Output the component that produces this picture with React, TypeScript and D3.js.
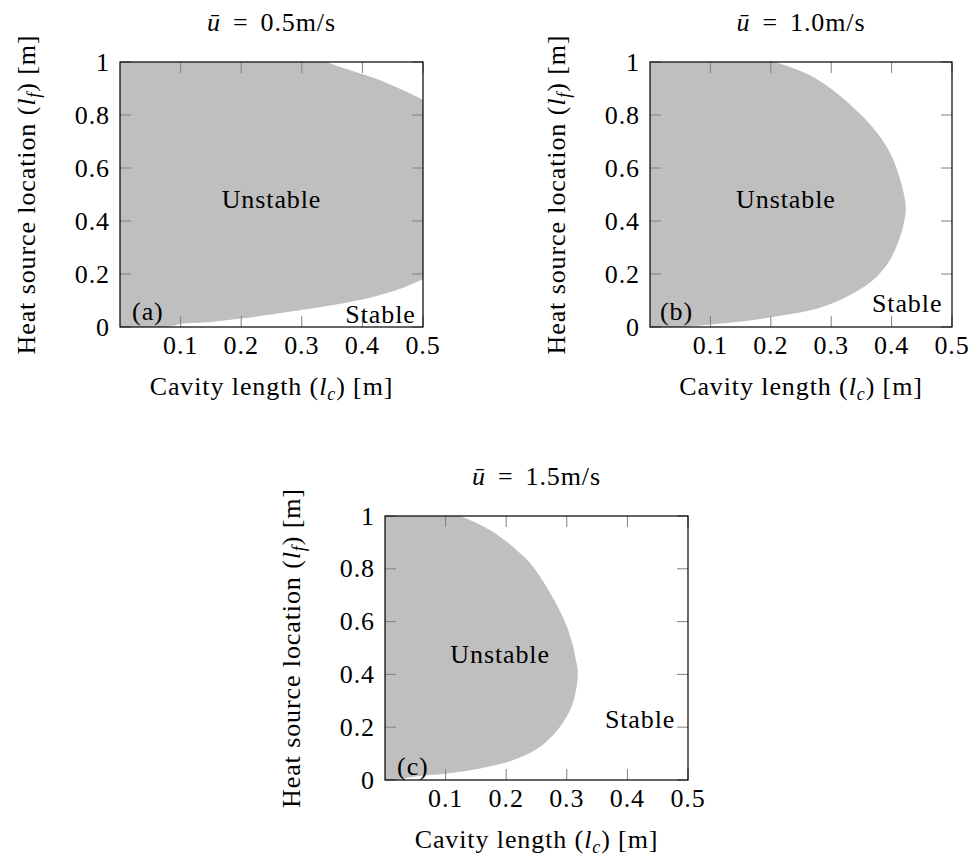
import React from "react";
import * as d3 from "d3";

// Mean flow velocities of the three stability maps
const velocities = ["0.5", "1.0", "1.5"];
const panelTags = ["(a)", "(b)", "(c)"];

const xTicks = [0.1, 0.2, 0.3, 0.4, 0.5];
const yTicks = [0, 0.2, 0.4, 0.6, 0.8, 1];
const yTickLabels = ["0", "0.2", "0.4", "0.6", "0.8", "1"];

// Boundary of the unstable region, traced from the bottom edge round to the top edge.
// Panel (a) runs out of the window at lc = 0.5, so its boundary is a lower and an upper branch.
const lowerLcA = [0.07, 0.09, 0.101, 0.15, 0.2, 0.247, 0.302, 0.357, 0.412, 0.467, 0.5];
const lowerLfA = [0, 0.006, 0.012, 0.019, 0.032, 0.046, 0.065, 0.085, 0.11, 0.148, 0.18];
const upperLcA = [0.5, 0.461, 0.423, 0.384, 0.34];
const upperLfA = [0.858, 0.9, 0.937, 0.966, 1.0];

const boundaryLcB = [0.05, 0.083, 0.116, 0.165, 0.22, 0.276, 0.325, 0.369, 0.397, 0.414, 0.421, 0.4235, 0.4205, 0.413, 0.402, 0.383, 0.353, 0.314, 0.265, 0.207];
const boundaryLfB = [0, 0.006, 0.013, 0.025, 0.044, 0.069, 0.113, 0.176, 0.252, 0.34, 0.4, 0.45, 0.5, 0.565, 0.635, 0.711, 0.792, 0.874, 0.95, 1.0];

const boundaryLcC = [0.02, 0.047, 0.074, 0.102, 0.157, 0.212, 0.256, 0.289, 0.308, 0.317, 0.318, 0.315, 0.309, 0.298, 0.279, 0.256, 0.2395, 0.223, 0.204, 0.173, 0.14, 0.124];
const boundaryLfC = [0, 0.0125, 0.019, 0.025, 0.044, 0.076, 0.126, 0.202, 0.278, 0.366, 0.417, 0.455, 0.518, 0.594, 0.682, 0.77, 0.821, 0.859, 0.897, 0.947, 0.985, 1.0];

type Pt = [number, number];
const zip = (lc: number[], lf: number[]): Pt[] => lc.map((v, i) => [v, lf[i]]);

// Each panel: list of boundary branches joined by straight runs
const branches: Pt[][][] = [
  [zip(lowerLcA, lowerLfA), zip(upperLcA, upperLfA)],
  [zip(boundaryLcB, boundaryLfB)],
  [zip(boundaryLcC, boundaryLfC)],
];

// Frame of each panel on the page
const frames = [
  { left: 120, top: 62, width: 303, height: 265 },
  { left: 650, top: 62, width: 302, height: 265 },
  { left: 385, top: 516, width: 303, height: 264 },
];

// Annotation anchors in data coordinates
const unstableAt = [
  [0.25, 0.448],
  [0.225, 0.448],
  [0.19, 0.444],
];
const stableAt = [
  [0.488, 0.014],
  [0.484, 0.057],
  [0.479, 0.196],
];
const tagAt = [
  [0.02, 0.025],
  [0.0165, 0.025],
  [0.02, 0.019],
];

const FONT = "'Liberation Serif', 'Times New Roman', serif";
const FS = 26;
const LS = 0.9;

function Panel({ idx }: { idx: number }) {
  const f = frames[idx];
  const x = d3.scaleLinear().domain([0, 0.5]).range([f.left, f.left + f.width]);
  const y = d3.scaleLinear().domain([0, 1]).range([f.top + f.height, f.top]);

  const line = d3
    .line<Pt>()
    .x((d) => x(d[0]))
    .y((d) => y(d[1]))
    .curve(d3.curveCatmullRom.alpha(0.5));
  const parts = branches[idx].map((b, i) => {
    const s = line(b) || "";
    return i === 0 ? s : "L" + s.slice(1);
  });
  const regionPath = `${parts.join("")}L${x(0)},${y(1)}L${x(0)},${y(0)}Z`;

  const clipId = `plot-clip-${idx}`;
  const tickLen = 11;
  const cx = f.left + f.width / 2;
  const cy = f.top + f.height / 2;
  const bottom = f.top + f.height;
  const right = f.left + f.width;

  return (
    <g fontFamily={FONT} fontSize={FS} fill="#000" letterSpacing={LS}>
      <defs>
        <clipPath id={clipId}>
          <rect x={f.left} y={f.top} width={f.width} height={f.height} />
        </clipPath>
      </defs>
      <path d={regionPath} fill="#bfbfbf" clipPath={`url(#${clipId})`} />

      {/* ticks, mirrored on all four sides */}
      <g stroke="#808080" strokeWidth={1}>
        {xTicks.map((t) => (
          <g key={`xt${t}`}>
            <line x1={x(t)} x2={x(t)} y1={bottom} y2={bottom - tickLen} />
            <line x1={x(t)} x2={x(t)} y1={f.top} y2={f.top + tickLen} />
          </g>
        ))}
        {yTicks.map((t) => (
          <g key={`yt${t}`}>
            <line x1={f.left} x2={f.left + tickLen} y1={y(t)} y2={y(t)} />
            <line x1={right} x2={right - tickLen} y1={y(t)} y2={y(t)} />
          </g>
        ))}
      </g>
      <rect x={f.left} y={f.top} width={f.width} height={f.height} fill="none" stroke="#000" strokeWidth={1.2} />

      {xTicks.map((t) => (
        <text key={`xl${t}`} x={x(t)} y={bottom + 26.5} textAnchor="middle">
          {String(t)}
        </text>
      ))}
      {yTicks.map((t, i) => (
        <text key={`yl${t}`} x={f.left - 10} y={y(t) + 8.5} textAnchor="end">
          {yTickLabels[i]}
        </text>
      ))}

      <text x={cx} y={f.top - 31} textAnchor="middle">
        <tspan fontStyle="italic">ū</tspan>
        <tspan dx={12}>=</tspan>
        <tspan dx={12}>{velocities[idx]}m/s</tspan>
      </text>

      <text x={cx} y={bottom + 68} textAnchor="middle">
        <tspan>Cavity length (</tspan>
        <tspan fontStyle="italic">l</tspan>
        <tspan fontStyle="italic" fontSize={18} dy={5}>c</tspan>
        <tspan dy={-5}>) [m]</tspan>
      </text>

      <text transform={`translate(${f.left - 85},${cy}) rotate(-90)`} textAnchor="middle">
        <tspan>Heat source location (</tspan>
        <tspan fontStyle="italic">l</tspan>
        <tspan fontStyle="italic" fontSize={18} dy={5}>f</tspan>
        <tspan dy={-5}>) [m]</tspan>
      </text>

      <text x={x(unstableAt[idx][0])} y={y(unstableAt[idx][1])} textAnchor="middle">
        Unstable
      </text>
      <text x={x(stableAt[idx][0])} y={y(stableAt[idx][1])} textAnchor="end">
        Stable
      </text>
      <text x={x(tagAt[idx][0])} y={y(tagAt[idx][1])} textAnchor="start">
        {panelTags[idx]}
      </text>
    </g>
  );
}

export default function App() {
  return (
    <svg
      width={974}
      height={856}
      viewBox="0 0 974 856"
      style={{ position: "absolute", left: 0, top: 0, background: "#fff" }}
    >
      <rect width={974} height={856} fill="#fff" />
      {[0, 1, 2].map((i) => (
        <Panel key={i} idx={i} />
      ))}
    </svg>
  );
}
